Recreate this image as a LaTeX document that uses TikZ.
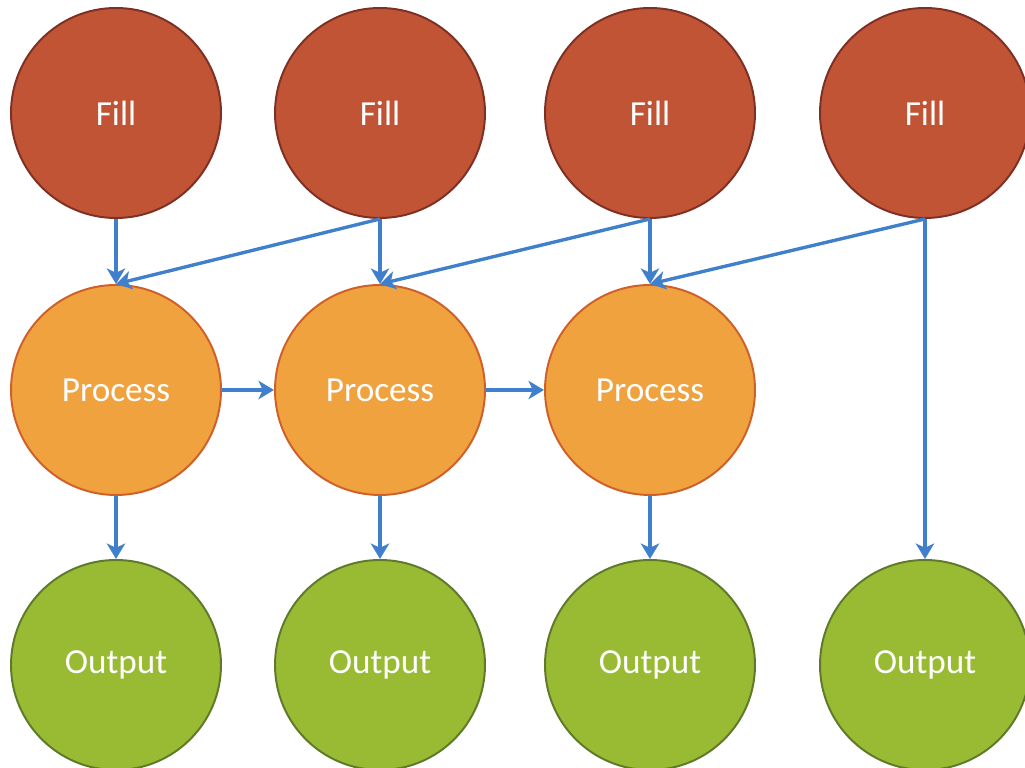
\documentclass[tikz,border=0pt]{standalone}
\usepackage{fontspec}
\setmainfont{Carlito}
\usetikzlibrary{arrows.meta}

\definecolor{fillred}{HTML}{C25436}
\definecolor{fillredline}{HTML}{7E3024}
\definecolor{procorange}{HTML}{EFA23E}
\definecolor{procorangeline}{HTML}{D0602A}
\definecolor{outgreen}{HTML}{99BB33}
\definecolor{outgreenline}{HTML}{5E7A2A}
\definecolor{flowblue}{HTML}{3F7FCB}

\begin{document}
\begin{tikzpicture}[
      every node/.style={circle, minimum size=5.25cm, line width=1.4pt,
        text=white, font=\fontsize{25}{30}\selectfont},
      fillnode/.style={fill=fillred, draw=fillredline},
      procnode/.style={fill=procorange, draw=procorangeline},
      outnode/.style={fill=outgreen, draw=outgreenline},
      flow/.style={draw=flowblue, line width=3.2pt,
        -{Stealth[length=11pt, width=13pt, inset=3pt]}}
    ]

    \useasboundingbox (0,0) rectangle (25.625,19.2);

    % top row
    \node[fillnode] (fill1) at (2.9,16.375) {Fill};
    \node[fillnode] (fill2) at (9.5,16.375) {Fill};
    \node[fillnode] (fill3) at (16.25,16.375) {Fill};
    \node[fillnode] (fill4) at (23.125,16.375) {Fill};

    % middle row
    \node[procnode] (proc1) at (2.9,9.45) {Process};
    \node[procnode] (proc2) at (9.5,9.45) {Process};
    \node[procnode] (proc3) at (16.25,9.45) {Process};

    % bottom row
    \node[outnode] (out1) at (2.9,2.575) {Output};
    \node[outnode] (out2) at (9.5,2.575) {Output};
    \node[outnode] (out3) at (16.25,2.575) {Output};
    \node[outnode] (out4) at (23.125,2.575) {Output};

    \draw[flow] (fill1) -- (proc1);
    \draw[flow] (fill2) -- (proc2);
    \draw[flow] (fill3) -- (proc3);
    \draw[flow] (fill4) -- (out4);

    \draw[flow, line width=2.4pt] (fill2.south) -- (proc1.north);
    \draw[flow, line width=2.4pt] (fill3.south) -- (proc2.north);
    \draw[flow, line width=2.4pt] (fill4.south) -- (proc3.north);

    \draw[flow] (proc1) -- (proc2);
    \draw[flow] (proc2) -- (proc3);

    \draw[flow] (proc1) -- (out1);
    \draw[flow] (proc2) -- (out2);
    \draw[flow] (proc3) -- (out3);

  \end{tikzpicture}
\end{document}
